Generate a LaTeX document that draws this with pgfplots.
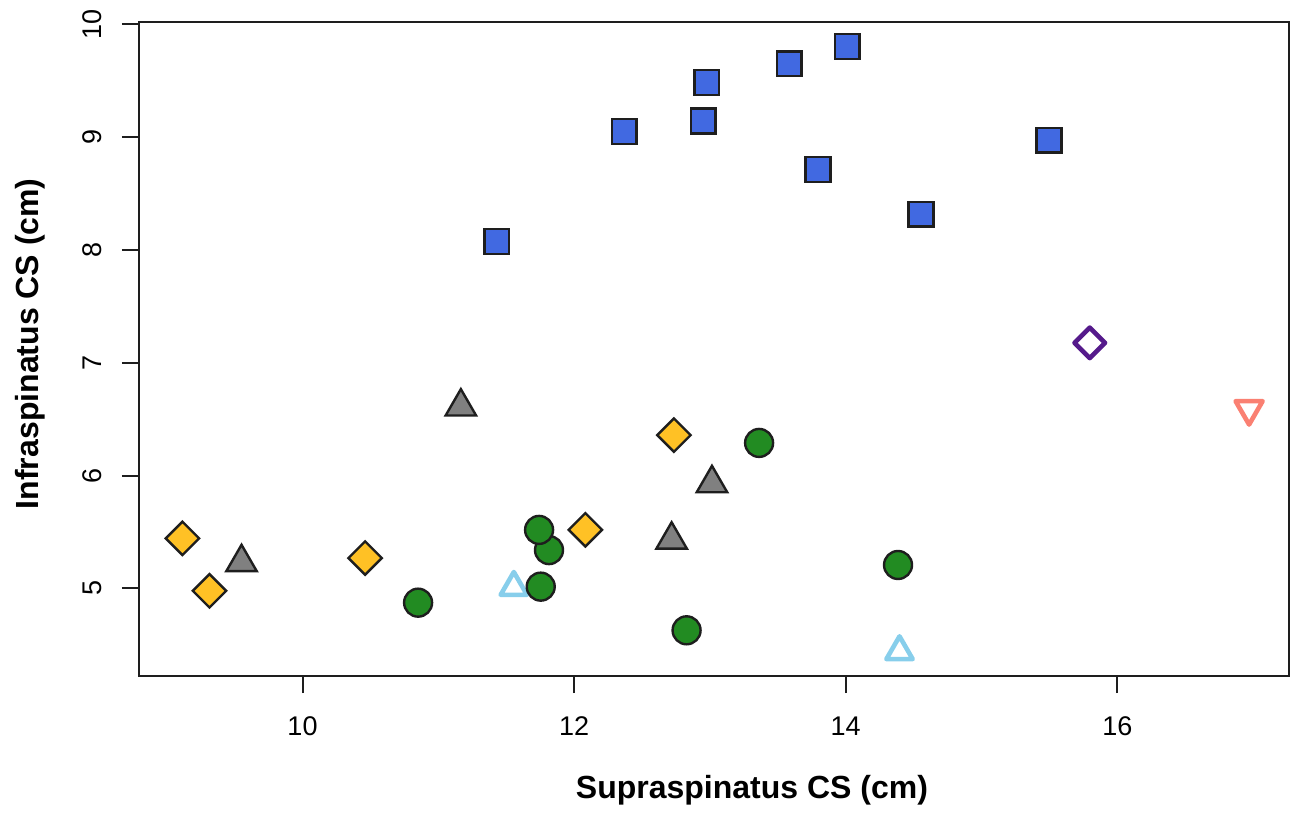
\documentclass[border=0pt]{standalone}
\usepackage{fontspec}
\setmainfont{Liberation Sans}
\usepackage{pgfplots}
\pgfplotsset{compat=1.18}
\definecolor{cBlue}{RGB}{65,105,225}
\definecolor{cGreen}{RGB}{34,139,34}
\definecolor{cGold}{RGB}{255,193,37}
\definecolor{cGray}{RGB}{128,128,128}
\definecolor{cSky}{RGB}{135,206,235}
\definecolor{cPurple}{RGB}{85,26,139}
\definecolor{cSalmon}{RGB}{250,128,114}
\definecolor{cEdge}{RGB}{30,30,30}
\begin{document}
\begin{tikzpicture}
\useasboundingbox (-69.5bp,-70bp) rectangle (579.5bp,338bp);
\begin{axis}[
    at={(0,0)}, anchor=south west,
    scale only axis, width=575bp, height=327bp,
    xmin=8.796, xmax=17.264, ymin=4.223, ymax=10.02,
    xtick={10,12,14,16}, ytick={5,6,7,8,9,10},
    tick align=outside, tick pos=left,
    major tick length=8.5bp,
    axis line style={line width=1bp, cEdge},
    every tick/.style={line width=1bp, cEdge},
    /pgf/number format/assume math mode=true,
    ticklabel style={font=\fontsize{13.5bp}{16bp}\selectfont},
    xticklabel style={anchor=base, yshift=-21bp},
    yticklabel style={xshift=-10.1bp, rotate=90, anchor=base},
]
% blue squares
\addplot[only marks, mark=square*, mark size=6.2bp,
    mark options={draw=cEdge, line width=1.2bp, fill=cBlue}] coordinates {
    (11.43,8.074) (12.369,9.049) (12.977,9.485) (12.951,9.142) (13.584,9.650)
    (14.010,9.802) (13.795,8.712) (14.554,8.316) (15.497,8.973)};
% grey triangles
\addplot[only marks, mark=triangle*, mark size=8.8bp,
    mark options={draw=cEdge, line width=1.2bp, fill=cGray}] coordinates {
    (9.551,5.23) (11.166,6.61) (13.015,5.93) (12.718,5.43)};
% gold diamonds
\addplot[only marks, mark=square*, mark size=5.9bp,
    mark options={rotate=45, draw=cEdge, line width=1.2bp, fill=cGold}] coordinates {
    (9.116,5.443) (9.315,4.978) (10.461,5.268) (12.083,5.519) (12.735,6.358)};
% light blue open triangles
\addplot[only marks, mark=triangle, mark size=7.6bp,
    mark options={draw=cSky, line width=2.3bp, line join=round}] coordinates {
    (11.556,5.01) (14.396,4.44)};
% green circles
\addplot[only marks, mark=*, mark size=7bp,
    mark options={draw=cEdge, line width=1.2bp, fill=cGreen}] coordinates {
    (10.851,4.873) (11.815,5.339) (11.742,5.518) (11.754,5.015) (12.828,4.628)
    (13.362,6.289) (14.385,5.207)};
% purple open diamond
\addplot[only marks, mark=square, mark size=5.4bp,
    mark options={rotate=45, draw=cPurple, line width=2.3bp, line join=round}] coordinates {
    (15.797,7.176)};
% salmon open down triangle
\addplot[only marks, mark=triangle, mark size=7.8bp,
    mark options={rotate=180, draw=cSalmon, line width=2.3bp, line join=round}] coordinates {
    (16.97,6.59)};
\end{axis}
\node[anchor=base, font=\fontsize{16bp}{19bp}\selectfont\bfseries] at (0.533*575bp,-61bp) {Supraspinatus CS (cm)};
\node[rotate=90, anchor=base, font=\fontsize{16bp}{19bp}\selectfont\bfseries] at (-50bp,0.508*327bp) {Infraspinatus CS (cm)};
\end{tikzpicture}
\end{document}
